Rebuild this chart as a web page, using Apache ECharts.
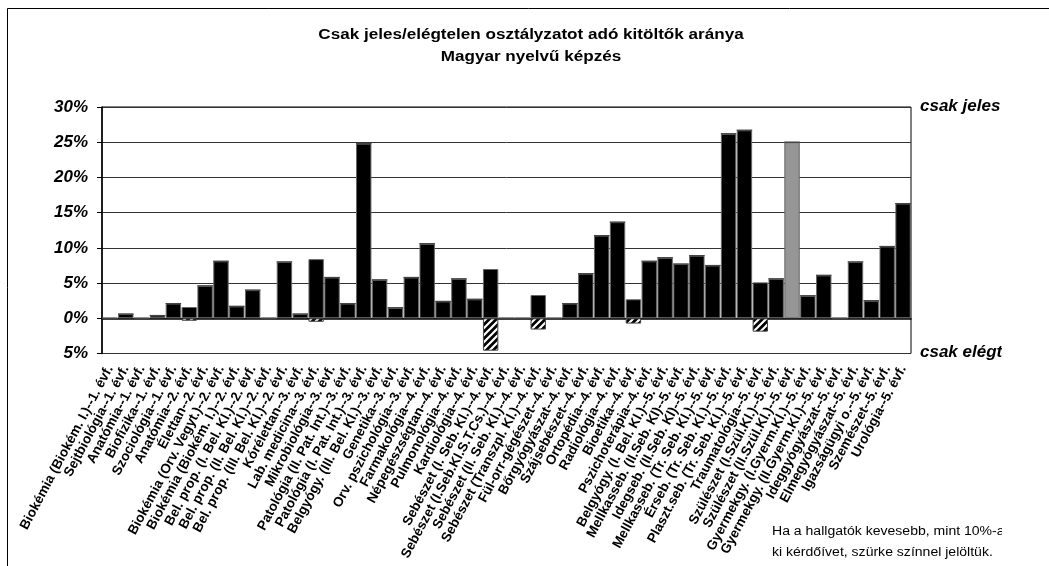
<!DOCTYPE html>
<html>
<head>
<meta charset="utf-8">
<script src="https://cdn.jsdelivr.net/npm/echarts@6/dist/echarts.min.js"></script>
<style>
  html, body { margin: 0; padding: 0; background: #fff; }
  #chart { width: 1049px; height: 566px; }
</style>
</head>
<body>
<div id="chart"></div>
<script>
/*adatok*/
var categories = [
    'Biokémia (Biokém. I.)--1. évf.', 'Sejtbiológia--1. évf.', 'Anatómia--1. évf.', 'Biofizika--1. évf.',
    'Szociológia--1. évf.', 'Anatómia--2. évf.', 'Élettan--2. évf.', 'Biokémia (Orv. Vegyt.)--2. évf.',
    'Biokémia (Biokém. I.)--2. évf.', 'Bel. prop. (I. Bel. Kl.)--2. évf.', 'Bel. prop. (II. Bel. Kl.)--2. évf.',
    'Bel. prop. (III. Bel. Kl.)--2. évf.', 'Kórélettan--3. évf.', 'Lab. medicina--3. évf.', 'Mikrobiológia--3. évf.',
    'Patológia (II. Pat. Int.)--3. évf.', 'Patológia (I. Pat. Int.)--3. évf.', 'Belgyógy. (III. Bel. Kl.)--3. évf.',
    'Genetika--3. évf.', 'Orv. pszichológia--3. évf.', 'Farmakológia--4. évf.', 'Népegészségtan--4. évf.',
    'Pulmonológia--4. évf.', 'Kardiológia--4. évf.', 'Sebészet (I. Seb. Kl.)--4. évf.',
    'Sebészet (I.Seb.Kl.S.T.Cs.)--4. évf.', 'Sebészet (II. Seb. Kl.)--4. évf.', 'Sebészet (Transzpl. Kl.)--4. évf.',
    'Fül-orr-gégészet--4. évf.', 'Bőrgyógyászat--4. évf.', 'Szájsebészet--4. évf.', 'Ortopédia--4. évf.',
    'Radiológia--4. évf.', 'Bioetika--4. évf.', 'Pszichoterápia--4. évf.', 'Belgyógy. (I. Bel. Kl.)--5. évf.',
    'Mellkasseb. (II.Seb. Kl)--5. évf.', 'Idegseb. (II.Seb. Kl)--5. évf.', 'Mellkasseb. (Tr. Seb. Kl.)--5. évf.',
    'Érseb. (Tr. Seb. Kl.)--5. évf.', 'Plaszt.seb. (Tr. Seb. Kl.)--5. évf.', 'Traumatológia--5. évf.',
    'Szülészet (I.Szül.Kl.)--5. évf.', 'Szülészet (II.Szül.Kl.)--5. évf.', 'Gyermekgy. (I.Gyerm.Kl.)--5. évf.',
    'Gyermekgy. (II.Gyerm.Kl.)--5. évf.', 'Ideggyógyászat--5. évf.', 'Elmegyógyászat--5. évf.',
    'Igazságügyi o.--5. évf.', 'Szemészet--5. évf.', 'Urológia--5. évf.'
];
// csak jeles (%)
var jelesValues = [0, 0.6, 0, 0.4, 2.1, 1.6, 4.6, 8.1, 1.7, 4.0, 0, 8.0, 0.6, 8.4, 5.8, 2.1, 24.8, 5.45, 1.5, 5.8,
    10.6, 2.4, 5.6, 2.7, 7.0, 0, 0, 3.3, 0, 2.1, 6.35, 11.75, 13.65, 2.7, 8.1, 8.6, 7.7, 8.9, 7.5, 26.2,
    26.7, 5.1, 5.6, 25.0, 3.2, 6.1, 0, 8.0, 2.5, 10.2, 16.3];
// csak elégtelen (%), lefelé
var elegtelenValues = [0, 0, 0, 0, 0, -0.35, 0, 0, 0, 0, 0, 0, 0, -0.5, 0, 0, 0, 0, 0, 0,
    0, 0, 0, 0, -4.6, 0, 0, -1.6, 0, 0, 0, 0, 0, -0.75, 0, 0, 0, 0, 0, 0,
    0, -1.9, 0, 0, 0, 0, 0, 0, 0, 0, 0];
// kevés kitöltő -> szürke
var grayIndexes = [43];
var yTicks = [-5, 0, 5, 10, 15, 20, 25, 30];

var font = 'Liberation Sans, Arial, sans-serif';

/*csíkos minta*/
var hatch = document.createElement('canvas');
hatch.width = 7; hatch.height = 7;
var hc = hatch.getContext('2d');
hc.fillStyle = '#000';
hc.fillRect(0, 0, 7, 7);
hc.strokeStyle = '#fff';
hc.lineWidth = 2.2;
hc.beginPath();
hc.moveTo(-1, 8); hc.lineTo(8, -1);
hc.moveTo(-4.5, 4.5); hc.lineTo(4.5, -4.5);
hc.moveTo(2.5, 11.5); hc.lineTo(11.5, 2.5);
hc.stroke();

var jelesData = jelesValues.map(function (v, i) {
    if (grayIndexes.indexOf(i) >= 0) {
        return { value: v, itemStyle: { color: '#969696' } };
    }
    return v;
});

var chart = echarts.init(document.getElementById('chart'));
var option = {
    animation: false,
    backgroundColor: '#fff',
    grid: { left: 102, right: 138, top: 107, bottom: 212.5, show: true, borderColor: '#000', borderWidth: 1 },
    xAxis: {
        type: 'category',
        data: categories,
        axisLine: { lineStyle: { color: '#000', width: 1.5 } },
        axisTick: { interval: 0, length: 9, lineStyle: { color: '#000' } },
        axisLabel: {
            interval: 0, rotate: 62, margin: 13,
            fontFamily: font, fontSize: 13.5, fontWeight: 'bold', color: '#000'
        },
        splitLine: { show: false }
    },
    yAxis: {
        type: 'value',
        min: yTicks[0], max: yTicks[yTicks.length - 1], interval: 5,
        axisLine: { show: true, lineStyle: { color: '#000', width: 1.5 } },
        axisTick: { show: true, length: 5, lineStyle: { color: '#000' } },
        axisLabel: {
            margin: 14,
            fontFamily: font, fontSize: 17, fontWeight: 'bold', fontStyle: 'italic', color: '#000',
            formatter: function (v) { return Math.abs(v) + '%'; }
        },
        splitLine: { lineStyle: { color: '#333', width: 1 } }
    },
    series: [
        {
            type: 'bar', stack: 'a', data: jelesData,
            barCategoryGap: '3%',
            itemStyle: { color: '#000', borderColor: '#666', borderWidth: 1 }
        },
        {
            type: 'bar', stack: 'a', data: elegtelenValues,
            itemStyle: { color: { image: hatch, repeat: 'repeat' }, borderColor: '#444', borderWidth: 1 }
        }
    ],
    graphic: [
        { type: 'rect', shape: { x: 7.5, y: 8.5, width: 1200, height: 700 },
          style: { fill: 'none', stroke: '#000', lineWidth: 1 }, z: 100 },
        // cím, kicsit szélesebbre húzva mint az eredeti
        { type: 'text', x: 531, y: 35, scaleX: 1.22,
          style: { text: 'Csak jeles/elégtelen osztályzatot adó kitöltők aránya', textAlign: 'center', textVerticalAlign: 'middle',
                   font: 'bold 14px ' + font, fill: '#000' } },
        { type: 'text', x: 531, y: 57, scaleX: 1.22,
          style: { text: 'Magyar nyelvű képzés', textAlign: 'center', textVerticalAlign: 'middle',
                   font: 'bold 14px ' + font, fill: '#000' } },
        { type: 'text', x: 920, y: 106,
          style: { text: 'csak jeles', textVerticalAlign: 'middle', font: 'italic bold 17px ' + font, fill: '#000' } },
        { type: 'text', x: 920, y: 352,
          style: { text: 'csak elégtelen', textVerticalAlign: 'middle', font: 'italic bold 17px ' + font, fill: '#000' } },
        { type: 'text', x: 772, y: 532, scaleX: 1.17,
          style: { text: 'Ha a hallgatók kevesebb, mint 10%-a töltötte', textVerticalAlign: 'middle', font: '12px ' + font, fill: '#000' } },
        { type: 'text', x: 772, y: 553, scaleX: 1.17,
          style: { text: 'ki kérdőívet, szürke színnel jelöltük.', textVerticalAlign: 'middle', font: '12px ' + font, fill: '#000' } },
        // a jobb szél le van vágva
        { type: 'rect', shape: { x: 1002, y: 20, width: 60, height: 560 },
          style: { fill: '#fff' }, z: 50 }
    ]
};
chart.setOption(option);
</script>
</body>
</html>
